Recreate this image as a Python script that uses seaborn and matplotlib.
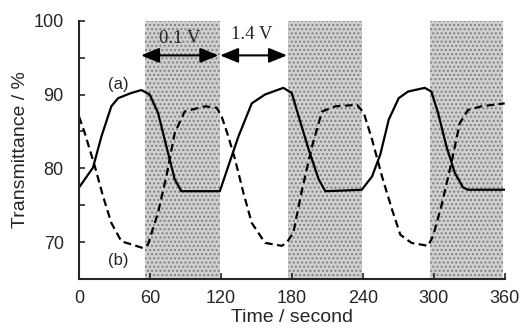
import matplotlib
matplotlib.use('Agg')
import matplotlib.pyplot as plt
from matplotlib.ticker import MultipleLocator
import numpy as np
import pandas as pd
import seaborn as sns

# curve (a): solid
time_a = [0, 11.8, 18.9, 27.3, 33, 44, 52.7, 59.7, 66.8, 73.8, 80.9, 86.5, 100, 119,
          126.2, 134.7, 146, 157.2, 172.7, 179.8, 185.7, 194.2, 202.6, 208.2, 225, 239,
          247.7, 254.7, 261.8, 270.2, 278.1, 292.2, 297.8, 303.5, 310.5, 317.6, 324.6,
          328.8, 345, 360]
trans_a = [77.4, 80.1, 84.3, 88.4, 89.5, 90.2, 90.6, 90.0, 87.5, 83.0, 78.5, 76.9, 76.9, 76.9,
           80.3, 84.3, 88.8, 90.0, 90.9, 90.2, 87.0, 82.5, 78.5, 76.9, 77.0, 77.1,
           78.9, 81.9, 86.6, 89.5, 90.4, 90.9, 90.4, 87.5, 83.0, 79.4, 77.4,
           77.1, 77.1, 77.1]

# curve (b): dashed
time_b = [0, 4.8, 13.3, 20.3, 27.3, 35.8, 44.2, 54, 58.3, 66.8, 73.8, 80.9, 89.3, 106.5,
          116.4, 120.6, 126.2, 131.9, 138.9, 146, 157.2, 171.3, 175.5, 181.2, 188.5, 197,
          205.4, 216.7, 235, 240.7, 247.7, 256.1, 264.6, 271.6, 281, 295, 299.2, 306.3,
          314.7, 321.8, 328.8, 340.1, 359.8]
trans_b = [87.0, 84.8, 80.3, 76.2, 72.6, 70.1, 69.7, 69.2, 69.7, 74.0, 78.9, 84.8, 87.7, 88.4,
           88.2, 87.0, 84.3, 81.2, 76.7, 72.6, 69.9, 69.5, 69.9, 71.3, 77.1, 83.0,
           87.7, 88.4, 88.6, 87.5, 83.9, 78.9, 74.4, 71.0, 69.9, 69.5, 70.8, 74.9,
           80.7, 86.1, 87.9, 88.4, 88.8]

# shaded (0.1 V) periods
shade_spans = [(56, 119), (177, 239), (297, 358)]

df_a = pd.DataFrame({'t': time_a, 'T': trans_a})
df_b = pd.DataFrame({'t': time_b, 'T': trans_b})

sns.set_style('ticks')
plt.rcParams['font.family'] = ['Liberation Sans', 'DejaVu Sans']
serif = ['Liberation Serif', 'DejaVu Serif']

fig, ax = plt.subplots(figsize=(5.2, 3.31), dpi=100)
fig.subplots_adjust(left=0.152, right=0.971, bottom=0.157, top=0.9375)

for x0, x1 in shade_spans:
    ax.axvspan(x0, x1, facecolor='#d0d0d0', edgecolor='#808080', hatch='....',
               linewidth=0, zorder=0)

sns.lineplot(data=df_a, x='t', y='T', ax=ax, color='black', linewidth=1.6)
sns.lineplot(data=df_b, x='t', y='T', ax=ax, color='black', linewidth=1.6,
             linestyle=(0, (3.5, 2)))

ax.text(33, 91.3, '(a)', fontsize=12, ha='center', va='center')
ax.text(33, 67.5, '(b)', fontsize=12, ha='center', va='center')

arr = dict(arrowstyle='<|-|>,head_length=1.1,head_width=0.45', color='black',
           lw=1.5, shrinkA=0, shrinkB=0)
ax.annotate('', xy=(52.4, 95.3), xytext=(117.8, 95.3), arrowprops=arr)
ax.annotate('', xy=(119.2, 95.3), xytext=(175.8, 95.3), arrowprops=arr)
ax.text(85, 97.6, '0.1 V', family=serif, fontsize=13.5, ha='center', va='center')
ax.text(146, 98.1, '1.4 V', family=serif, fontsize=13.5, ha='center', va='center')

ax.set_xlim(0, 360)
ax.set_ylim(65, 100)
ax.set_xticks([0, 60, 120, 180, 240, 300, 360])
ax.set_yticks([70, 80, 90, 100])
ax.yaxis.set_minor_locator(MultipleLocator(5))
ax.tick_params(axis='both', which='both', direction='in', length=4, width=1.2,
               labelsize=13)
ax.tick_params(axis='x', pad=8)
ax.tick_params(axis='y', pad=11)
ax.set_xlabel('Time / second', fontsize=14, labelpad=1)
ax.set_ylabel('Transmittance / %', fontsize=14, labelpad=3)
for s in ('left', 'bottom'):
    ax.spines[s].set_linewidth(1.5)
sns.despine(ax=ax)

fig.savefig('out.png', dpi=100)
